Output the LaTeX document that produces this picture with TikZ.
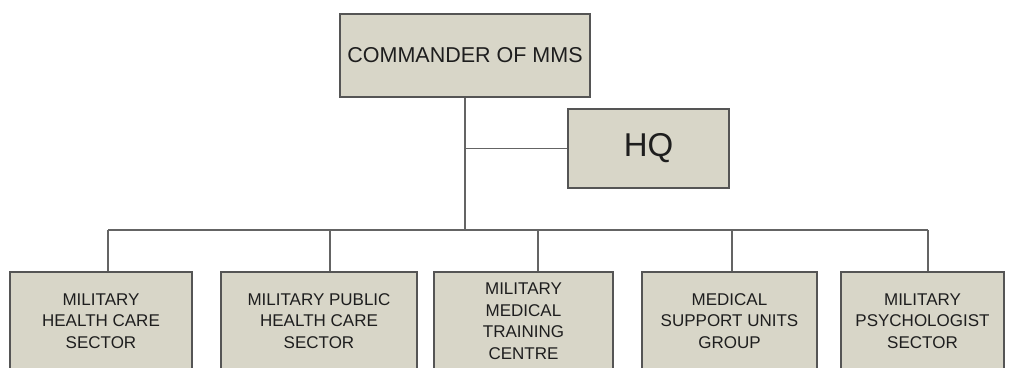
\documentclass[tikz,border=0pt]{standalone}
\usepackage{fontspec}
\setmainfont{Liberation Sans}
\definecolor{boxfill}{RGB}{216,214,200}
\definecolor{boxline}{RGB}{85,85,85}
\definecolor{conline}{RGB}{100,100,100}
\definecolor{txt}{RGB}{30,30,30}
\begin{document}
\begin{tikzpicture}[x=1pt,y=-1pt,
  unit/.style={draw=boxline, line width=1.4pt, fill=boxfill, text=txt, inner sep=0pt, align=center},
  conn/.style={draw=conline, line width=1.2pt},
  small/.style={font=\fontsize{17}{21.5}\selectfont}]
\useasboundingbox (0,0) rectangle (1014,367);
\clip (0,0) rectangle (1014,367);
\node[unit, minimum width=250pt, minimum height=83pt, font=\fontsize{21.5}{25}\selectfont] (cmd) at (465,55.5) {COMMANDER OF MMS};
\node[unit, minimum width=161pt, minimum height=79pt, font=\fontsize{33}{38}\selectfont] (hq) at (648.5,148.5) {HQ};
\node[unit, small, minimum width=182pt, minimum height=98pt] (s1) at (101,321) {MILITARY\\HEALTH CARE\\SECTOR};
\node[unit, small, minimum width=196pt, minimum height=98pt] (s2) at (319,321) {MILITARY PUBLIC\\HEALTH CARE\\SECTOR};
\node[unit, small, minimum width=179pt, minimum height=98pt] (s3) at (523.5,321) {MILITARY\\MEDICAL\\TRAINING\\CENTRE};
\node[unit, small, minimum width=175pt, minimum height=98pt] (s4) at (729.5,321) {MEDICAL\\SUPPORT UNITS\\GROUP};
\node[unit, small, minimum width=163pt, minimum height=98pt] (s5) at (922.5,321) {MILITARY\\PSYCHOLOGIST\\SECTOR};
\coordinate (bus) at (465,230);
\coordinate (d1) at (108,230);
\coordinate (d2) at (330,230);
\coordinate (d3) at (538,230);
\coordinate (d4) at (732,230);
\coordinate (d5) at (928,230);
\draw[conn] (cmd.south) -- (bus);
\draw[conn] (hq.west) -- (hq.west -| cmd.south);
\draw[conn] (d1) -- (d5);
\draw[conn] (d1) -- (d1 |- s1.north);
\draw[conn] (d2) -- (d2 |- s2.north);
\draw[conn] (d3) -- (d3 |- s3.north);
\draw[conn] (d4) -- (d4 |- s4.north);
\draw[conn] (d5) -- (d5 |- s5.north);
\end{tikzpicture}
\end{document}
